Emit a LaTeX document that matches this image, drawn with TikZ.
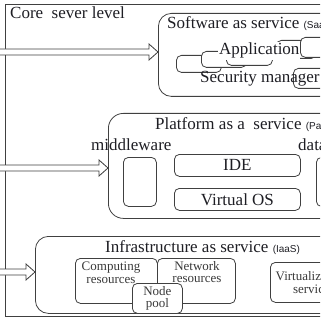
\documentclass[tikz,border=0pt]{standalone}
\usepackage{fontspec}
\setmainfont{Liberation Serif}
\setsansfont{Liberation Sans}
\usetikzlibrary{positioning,calc}
\definecolor{linegray}{HTML}{404040}
\definecolor{inkblack}{HTML}{1E1E24}
\definecolor{inkgray}{HTML}{3A3A3A}

\begin{document}
\begin{tikzpicture}[x=1pt,y=-1pt]
\tikzset{
  layerbox/.style={draw=linegray,line width=0.8pt,rounded corners=13pt,anchor=north west,inner sep=0pt},
  partbox/.style={draw=linegray,line width=0.8pt,rounded corners=5pt,anchor=north west,inner sep=0pt,fill=white,text=inkblack,font=\fontsize{17}{18}\selectfont},
  titletext/.style={anchor=base west,inner sep=0pt,text=inkblack,font=\fontsize{17}{18}\selectfont},
  smalltext/.style={align=center,inner sep=0pt,text=inkgray,font=\fontsize{13}{12.5}\selectfont},
  hollowarrow/.style={draw=linegray,line width=0.8pt,fill=white,line join=miter}
}
\useasboundingbox (0,0) rectangle (320,320);
\clip (0,0) rectangle (320,320);
\node[draw=linegray,line width=0.8pt,anchor=north west,minimum width=400pt,minimum height=312pt,inner sep=0pt] (core) at (5,4) {};
\node[titletext] (corelbl) at (10,19) {Core\ \ sever level};
% software layer
\node[layerbox,minimum width=260pt,minimum height=83pt] (saas) at (158,13) {};
\node[titletext] (saastitle) at (167,29) {Software as service {\sffamily\fontsize{10}{12}\selectfont(SaaS)}};
\node[partbox,minimum width=45pt,minimum height=17pt] (app1) at (176,55) {};
\node[partbox,minimum width=45pt,minimum height=16pt] (app2) at (201,51) {};
\node[partbox,minimum width=46pt,minimum height=18pt] (app3) at (226,47) {};
\node[partbox,minimum width=40pt,minimum height=18pt] (app4) at (276,40) {};
\node[partbox,minimum width=45pt,minimum height=20pt] (app5) at (300,37) {};
\node[titletext,fill=white,inner sep=1pt] (applbl) at (218,55) {Application};
\node[partbox,minimum width=60pt,minimum height=20pt,fill=none] (secbox) at (293,68) {};
\node[titletext] (seclbl) at (200,83) {Security manager};
% platform layer
\node[layerbox,rounded corners=15pt,minimum width=300pt,minimum height=105pt] (paas) at (108,113) {};
\node[titletext] (paastitle) at (155,130) {Platform as a\ \ service {\sffamily\fontsize{10}{12}\selectfont(PaaS)}};
\node[titletext] (mwlbl) at (91,150) {middleware};
\node[titletext] (dblbl) at (298,150) {database};
\node[partbox,minimum width=33pt,minimum height=49pt] (mwbox) at (123,157) {};
\node[partbox,minimum width=126pt,minimum height=22pt] (ide) at (174,154) {IDE};
\node[partbox,minimum width=126pt,minimum height=22pt] (vos) at (174,188) {Virtual OS};
\node[partbox,minimum width=40pt,minimum height=49pt] (dbbox) at (316,157) {};
% infrastructure layer
\node[layerbox,minimum width=380pt,minimum height=77pt] (iaas) at (35,236) {};
\node[titletext] (iaastitle) at (105,252) {Infrastructure as service {\sffamily\fontsize{10}{12}\selectfont(IaaS)}};
\node[partbox,minimum width=82pt,minimum height=45pt] (comp) at (75,258) {};
\node[partbox,minimum width=78pt,minimum height=45pt] (net) at (157,258) {};
\node[smalltext] (complbl) at (111,273) {Computing\\resources};
\node[smalltext] (netlbl) at (197,272) {Network\\resources};
\node[partbox,minimum width=50pt,minimum height=30pt] (pool) at (132,283) {};
\node[smalltext] (poollbl) at (pool.center) {Node\\pool};
\node[partbox,minimum width=82pt,minimum height=40pt] (virt) at (270,262) {};
\node[smalltext] (virtlbl) at (virt.center) {Virtualization\\service};
% arrows into the layers
\coordinate (src1) at (-2,52);
\coordinate (src2) at (-2,168);
\coordinate (src3) at (-2,272);
\coordinate (tip1) at (saas.west |- src1);
\coordinate (tip2) at (paas.west |- src2);
\coordinate (tip3) at (iaas.west |- src3);
\draw[hollowarrow] ([shift={(0,-3)}]src1) -- ([shift={(-9,-3)}]tip1) -- ([shift={(-9,-8)}]tip1) -- (tip1) -- ([shift={(-9,8)}]tip1) -- ([shift={(-9,3)}]tip1) -- ([shift={(0,3)}]src1);
\draw[hollowarrow] ([shift={(0,-3)}]src2) -- ([shift={(-9,-3)}]tip2) -- ([shift={(-9,-8)}]tip2) -- (tip2) -- ([shift={(-9,8)}]tip2) -- ([shift={(-9,3)}]tip2) -- ([shift={(0,3)}]src2);
\draw[hollowarrow] ([shift={(0,-3)}]src3) -- ([shift={(-9,-3)}]tip3) -- ([shift={(-9,-8)}]tip3) -- (tip3) -- ([shift={(-9,8)}]tip3) -- ([shift={(-9,3)}]tip3) -- ([shift={(0,3)}]src3);
\end{tikzpicture}
\end{document}
